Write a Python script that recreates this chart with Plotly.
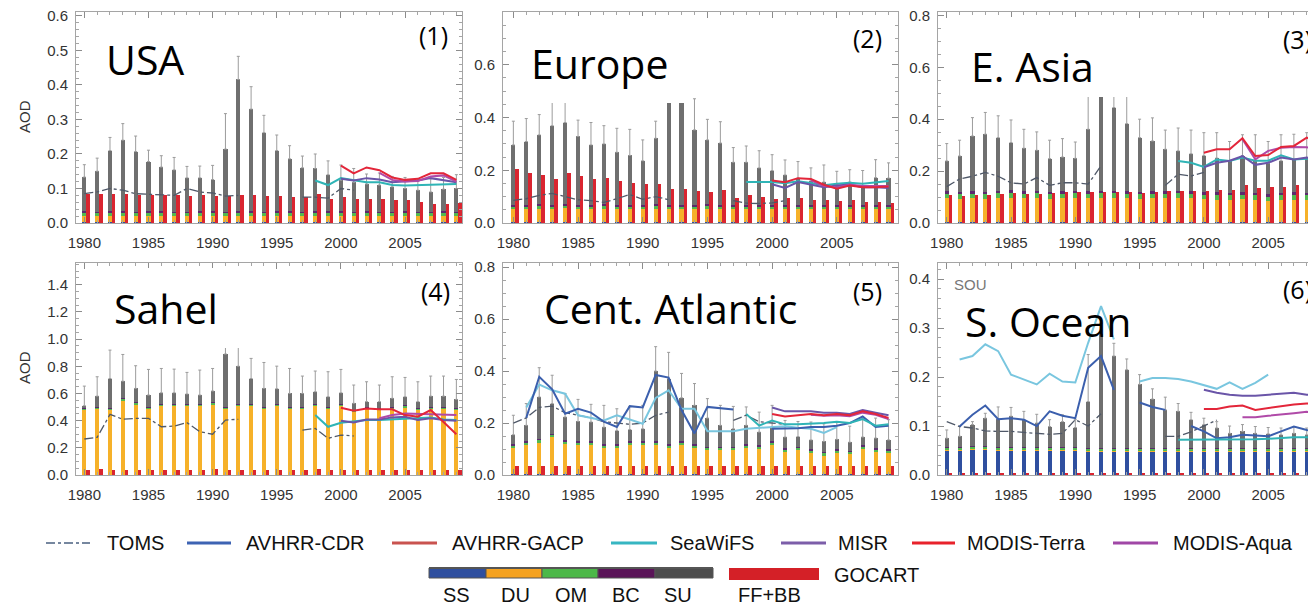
import plotly.graph_objects as go

# page body adds an 8px offset; figure is laid out in reference pixel coords minus that offset
OFF = 8
W, H = 1316 - OFF, 606 - OFF
years = list(range(1980, 2010))
tick_years = [1980, 1985, 1990, 1995, 2000, 2005]
seawifs_years = list(range(1998, 2010))
misr_years = list(range(2000, 2010))
terra_years = list(range(2000, 2010))
aqua_years = list(range(2003, 2010))

# ---------------- (1) USA ----------------
usa_total = [0.133,0.150,0.210,0.240,0.207,0.178,0.162,0.154,0.131,0.131,0.126,0.214,0.416,0.330,0.262,0.210,0.186,0.160,0.158,0.140,0.124,0.118,0.113,0.110,0.105,0.100,0.095,0.090,0.098,0.100]
usa_errtop = [0.169,0.188,0.248,0.288,0.252,0.211,0.195,0.190,0.164,0.165,0.167,0.317,0.483,0.395,0.312,0.255,0.224,0.194,0.200,0.180,0.168,0.158,0.142,0.145,0.135,0.132,0.128,0.128,0.132,0.140]
usa_ss = [0.003,0.003,0.003,0.003,0.003,0.003,0.003,0.003,0.003,0.003,0.003,0.003,0.003,0.003,0.003,0.003,0.003,0.003,0.003,0.003,0.003,0.003,0.003,0.003,0.003,0.003,0.003,0.003,0.003,0.003]
usa_du = [0.017,0.016,0.017,0.017,0.016,0.017,0.017,0.016,0.016,0.017,0.017,0.016,0.017,0.017,0.016,0.017,0.017,0.016,0.017,0.017,0.017,0.016,0.017,0.016,0.016,0.017,0.016,0.016,0.017,0.016]
usa_om = [0.010,0.010,0.010,0.010,0.010,0.010,0.010,0.010,0.010,0.010,0.010,0.010,0.010,0.010,0.010,0.010,0.010,0.010,0.010,0.010,0.010,0.010,0.010,0.010,0.010,0.010,0.010,0.010,0.010,0.010]
usa_bc = [0.004,0.004,0.004,0.004,0.004,0.004,0.004,0.004,0.004,0.004,0.004,0.004,0.004,0.004,0.004,0.004,0.004,0.004,0.004,0.004,0.004,0.004,0.004,0.004,0.004,0.004,0.004,0.004,0.004,0.004]
usa_ff = [0.083,0.083,0.085,0.083,0.080,0.080,0.080,0.080,0.077,0.080,0.077,0.077,0.080,0.080,0.077,0.077,0.075,0.075,0.085,0.070,0.075,0.070,0.070,0.070,0.066,0.066,0.061,0.056,0.054,0.057]
usa_toms = [0.085,0.090,0.100,0.095,0.085,0.083,0.080,0.080,0.100,0.090,0.087,0.078,0.080,None,None,None,None,0.075,0.075,0.072,0.100,0.095,None,None,None,None,None,None,None,None]
usa_seawifs = [0.123,0.110,0.130,0.123,0.118,0.118,0.110,0.109,0.110,0.113,0.114,0.113]
usa_misr = [0.128,0.123,0.130,0.126,0.118,0.120,0.123,0.130,0.125,0.118]
usa_terra = [0.166,0.144,0.161,0.153,0.132,0.125,0.128,0.144,0.144,0.125]
usa_aqua = [0.145,0.125,0.120,0.122,0.135,0.138,0.120]

# ---------------- (2) Europe ----------------
eur_total = [0.296,0.309,0.334,0.369,0.381,0.328,0.296,0.300,0.268,0.256,0.236,0.321,0.550,0.520,0.353,0.315,0.303,0.230,0.230,0.209,0.199,0.182,0.170,0.160,0.155,0.145,0.155,0.142,0.172,0.170]
eur_errtop = [0.386,0.396,0.411,0.470,0.480,0.390,0.381,0.369,0.359,0.355,0.315,0.386,0.650,0.620,0.471,0.393,0.384,0.286,0.292,0.274,0.259,0.239,0.233,0.209,0.220,0.196,0.202,0.199,0.240,0.228]
eur_ss = [0.003,0.003,0.003,0.003,0.003,0.003,0.003,0.003,0.003,0.003,0.003,0.003,0.003,0.003,0.003,0.003,0.003,0.003,0.003,0.003,0.003,0.003,0.003,0.003,0.003,0.003,0.003,0.003,0.003,0.003]
eur_du = [0.050,0.049,0.051,0.050,0.052,0.050,0.049,0.051,0.050,0.049,0.050,0.051,0.050,0.049,0.050,0.051,0.050,0.049,0.050,0.050,0.050,0.049,0.050,0.050,0.049,0.050,0.049,0.050,0.050,0.050]
eur_om = [0.011,0.011,0.011,0.011,0.011,0.011,0.011,0.011,0.011,0.011,0.011,0.011,0.011,0.011,0.011,0.011,0.011,0.011,0.011,0.011,0.011,0.011,0.011,0.011,0.011,0.011,0.011,0.011,0.011,0.011]
eur_bc = [0.006,0.006,0.006,0.006,0.006,0.006,0.006,0.006,0.006,0.006,0.006,0.006,0.006,0.006,0.006,0.006,0.006,0.006,0.006,0.006,0.006,0.006,0.006,0.006,0.006,0.006,0.006,0.006,0.006,0.006]
eur_ff = [0.203,0.188,0.181,0.165,0.188,0.178,0.165,0.169,0.159,0.153,0.146,0.146,0.130,0.130,0.121,0.118,0.125,0.096,0.105,0.099,0.090,0.095,0.093,0.087,0.089,0.085,0.086,0.081,0.078,0.076]
eur_toms = [0.086,0.092,0.105,0.112,0.100,0.088,0.085,0.078,0.092,0.108,0.090,0.100,0.088,None,None,None,None,0.085,0.075,0.074,0.076,0.085,None,None,None,None,None,None,None,None]
eur_seawifs = [0.155,0.155,0.155,0.151,0.158,0.152,0.143,0.149,0.153,0.149,0.153,0.159]
eur_misr = [0.147,0.133,0.155,0.145,0.136,0.142,0.146,0.136,0.136,0.133]
eur_terra = [0.161,0.155,0.170,0.167,0.145,0.130,0.142,0.136,0.136,0.138]
eur_aqua = [0.162,0.140,0.135,0.145,0.140,0.140,0.140]

# ---------------- (3) E. Asia ----------------
eas_total = [0.239,0.258,0.335,0.342,0.329,0.310,0.288,0.280,0.248,0.254,0.249,0.361,0.550,0.445,0.383,0.329,0.316,0.284,0.278,0.267,0.260,0.250,0.240,0.260,0.240,0.230,0.240,0.245,0.250,0.250]
eas_errtop = [0.306,0.319,0.406,0.426,0.413,0.397,0.361,0.351,0.319,0.325,0.312,0.550,0.650,0.550,0.520,0.400,0.405,0.358,0.366,0.358,0.348,0.348,0.314,0.340,0.340,0.314,0.340,0.342,0.348,0.345]
eas_ss = [0.003,0.003,0.003,0.003,0.003,0.003,0.003,0.003,0.003,0.003,0.003,0.003,0.003,0.003,0.003,0.003,0.003,0.003,0.003,0.003,0.003,0.003,0.003,0.003,0.003,0.003,0.003,0.003,0.003,0.003]
eas_du = [0.092,0.090,0.092,0.090,0.094,0.095,0.092,0.094,0.090,0.092,0.093,0.092,0.094,0.093,0.092,0.090,0.092,0.092,0.093,0.092,0.088,0.087,0.086,0.088,0.085,0.080,0.086,0.087,0.086,0.086]
eas_om = [0.018,0.018,0.018,0.018,0.018,0.018,0.018,0.018,0.018,0.018,0.018,0.018,0.018,0.018,0.018,0.018,0.018,0.018,0.018,0.018,0.018,0.018,0.018,0.018,0.018,0.018,0.018,0.018,0.018,0.018]
eas_bc = [0.010,0.010,0.010,0.010,0.010,0.010,0.010,0.010,0.010,0.010,0.010,0.010,0.010,0.010,0.010,0.010,0.010,0.010,0.010,0.010,0.010,0.010,0.010,0.010,0.010,0.010,0.010,0.010,0.010,0.010]
eas_ff = [0.106,0.103,0.106,0.106,0.110,0.114,0.110,0.110,0.114,0.119,0.119,0.119,0.119,0.119,0.119,0.114,0.119,0.122,0.122,0.122,0.122,0.126,0.128,0.148,0.134,0.140,0.140,0.145,0.145,0.148]
eas_toms = [0.140,0.170,0.180,0.195,0.180,0.155,0.150,0.175,0.145,0.155,0.155,0.150,0.220,None,None,None,None,0.145,0.188,0.181,0.195,None,None,None,None,None,None,None,None,None]
eas_seawifs = [0.239,0.232,0.216,0.245,0.239,0.252,0.240,0.240,0.261,0.245,0.248,0.245]
eas_misr = [0.215,0.232,0.240,0.258,0.224,0.232,0.252,0.245,0.252,0.245]
eas_terra = [0.271,0.284,0.284,0.327,0.258,0.262,0.293,0.297,0.329,0.310]
eas_aqua = [0.323,0.245,0.278,0.290,0.293,0.292,0.285]

# ---------------- (4) Sahel ----------------
sah_total = [0.510,0.580,0.710,0.690,0.637,0.588,0.605,0.605,0.596,0.588,0.618,0.890,0.800,0.710,0.637,0.635,0.600,0.600,0.613,0.576,0.605,0.527,0.540,0.540,0.564,0.576,0.540,0.580,0.580,0.556]
sah_errtop = [0.654,0.723,0.919,0.887,0.804,0.777,0.784,0.779,0.755,0.772,0.784,1.050,1.050,0.858,0.828,0.801,0.784,0.728,0.765,0.760,0.777,0.662,0.686,0.662,0.723,0.718,0.686,0.728,0.728,0.703]
sah_ss = [0.002,0.002,0.002,0.002,0.002,0.002,0.002,0.002,0.002,0.002,0.002,0.002,0.002,0.002,0.002,0.002,0.002,0.002,0.002,0.002,0.002,0.002,0.002,0.002,0.002,0.002,0.002,0.002,0.002,0.002]
sah_du = [0.478,0.488,0.478,0.548,0.518,0.488,0.508,0.508,0.508,0.508,0.518,0.488,0.508,0.508,0.488,0.508,0.488,0.488,0.508,0.488,0.508,0.466,0.488,0.478,0.488,0.498,0.478,0.488,0.488,0.478]
sah_om = [0.010,0.010,0.010,0.010,0.010,0.010,0.010,0.010,0.010,0.010,0.010,0.010,0.010,0.010,0.010,0.010,0.010,0.010,0.010,0.010,0.010,0.010,0.010,0.010,0.010,0.010,0.010,0.010,0.010,0.010]
sah_bc = [0.004,0.004,0.004,0.004,0.004,0.004,0.004,0.004,0.004,0.004,0.004,0.004,0.004,0.004,0.004,0.004,0.004,0.004,0.004,0.004,0.004,0.004,0.004,0.004,0.004,0.004,0.004,0.004,0.004,0.004]
sah_ff = [0.040,0.042,0.040,0.040,0.038,0.040,0.040,0.038,0.040,0.040,0.042,0.040,0.040,0.038,0.040,0.040,0.038,0.040,0.042,0.040,0.040,0.036,0.038,0.040,0.038,0.040,0.038,0.040,0.040,0.038]
sah_toms = [0.265,0.277,0.446,0.410,0.417,0.417,0.355,0.360,0.385,0.319,0.300,0.404,0.410,None,None,None,None,0.330,0.343,0.270,0.294,0.287,None,None,None,None,None,None,None,None]
sah_seawifs = [0.441,0.355,0.385,0.392,0.404,0.404,0.409,0.417,0.417,0.424,0.409,0.404]
sah_misr = [0.400,0.387,0.409,0.409,0.424,0.429,0.404,0.417,0.404,0.400]
sah_terra = [0.495,0.473,0.490,0.483,0.483,0.441,0.429,0.478,0.390,0.300]
sah_aqua = [0.417,0.441,0.453,0.450,0.452,0.448,0.441]

# ---------------- (5) Cent. Atlantic ----------------
cat_total = [0.155,0.191,0.300,0.275,0.223,0.206,0.204,0.184,0.171,0.175,0.178,0.400,0.371,0.297,0.268,0.219,0.191,0.178,0.191,0.165,0.184,0.146,0.148,0.135,0.129,0.137,0.126,0.146,0.142,0.135]
cat_errtop = [0.230,0.275,0.413,0.384,0.313,0.291,0.272,0.268,0.255,0.264,0.268,0.494,0.472,0.391,0.352,0.294,0.268,0.264,0.262,0.242,0.268,0.210,0.206,0.204,0.197,0.204,0.188,0.217,0.219,0.213]
cat_ss = [0.005,0.005,0.005,0.005,0.005,0.005,0.005,0.005,0.005,0.005,0.005,0.005,0.005,0.005,0.005,0.005,0.005,0.005,0.005,0.005,0.005,0.005,0.005,0.005,0.005,0.005,0.005,0.005,0.005,0.005]
cat_du = [0.100,0.110,0.120,0.140,0.115,0.110,0.110,0.100,0.100,0.110,0.110,0.110,0.100,0.110,0.100,0.090,0.090,0.090,0.100,0.095,0.110,0.085,0.090,0.080,0.070,0.080,0.075,0.095,0.085,0.080]
cat_om = [0.010,0.010,0.010,0.010,0.010,0.010,0.010,0.010,0.010,0.010,0.010,0.010,0.010,0.010,0.010,0.010,0.010,0.010,0.010,0.010,0.010,0.010,0.010,0.010,0.010,0.010,0.010,0.010,0.010,0.010]
cat_bc = [0.004,0.004,0.004,0.004,0.004,0.004,0.004,0.004,0.004,0.004,0.004,0.004,0.004,0.004,0.004,0.004,0.004,0.004,0.004,0.004,0.004,0.004,0.004,0.004,0.004,0.004,0.004,0.004,0.004,0.004]
cat_ff = [0.035,0.036,0.035,0.036,0.035,0.035,0.036,0.035,0.035,0.034,0.035,0.036,0.035,0.035,0.035,0.034,0.035,0.035,0.034,0.035,0.035,0.034,0.035,0.035,0.034,0.035,0.035,0.034,0.035,0.035]
cat_toms = [0.200,0.220,0.260,0.265,0.240,0.230,0.220,0.205,0.200,0.195,0.200,0.230,0.242,None,None,None,None,0.210,0.230,0.205,0.200,0.195,None,None,None,None,None,None,None,None]
cat_cdr = [None,0.220,0.378,0.330,0.236,0.255,0.240,0.205,0.185,0.265,0.260,0.385,0.375,0.250,0.160,0.262,0.258,0.252,None,None,0.178,0.178,0.180,0.185,0.185,0.190,0.200,0.225,0.185,0.190]
cat_gacp = [None,0.260,0.348,0.326,0.313,0.230,0.219,0.210,0.230,0.214,0.197,0.297,0.326,0.255,0.255,0.168,0.168,0.168,0.178,0.182,0.186,0.188,0.182,0.178,0.162,0.184,None,None,None,None]
cat_seawifs = [0.235,0.190,0.210,0.195,0.195,0.197,0.200,0.205,0.200,0.215,0.190,0.195]
cat_misr = [0.260,0.245,0.245,0.245,0.240,0.240,0.235,0.250,0.240,0.230]
cat_terra = [0.235,0.225,0.230,0.235,0.230,0.235,0.230,0.245,0.235,0.220]
cat_aqua = [0.232,0.228,0.230,0.226,0.240,0.232,0.215]

# ---------------- (6) S. Ocean ----------------
sou_total = [0.075,0.079,0.103,0.116,0.114,0.120,0.113,0.106,0.099,0.109,0.097,0.150,0.288,0.243,0.215,0.185,0.155,0.133,0.130,0.113,0.103,0.096,0.085,0.089,0.085,0.084,0.082,0.085,0.082,0.082]
sou_errtop = [0.092,0.099,0.109,0.126,0.139,0.138,0.130,0.124,0.113,0.123,0.113,0.246,0.310,0.269,0.237,0.205,0.176,0.159,0.146,0.128,0.116,0.109,0.100,0.103,0.099,0.097,0.096,0.098,0.096,0.096]
sou_ss = [0.050,0.051,0.052,0.052,0.051,0.051,0.051,0.050,0.050,0.051,0.050,0.049,0.048,0.048,0.048,0.049,0.049,0.049,0.049,0.049,0.049,0.048,0.048,0.048,0.048,0.048,0.048,0.048,0.048,0.048]
sou_du = [0.002,0.002,0.002,0.002,0.002,0.002,0.002,0.002,0.002,0.002,0.002,0.002,0.002,0.002,0.002,0.002,0.002,0.002,0.002,0.002,0.002,0.002,0.002,0.002,0.002,0.002,0.002,0.002,0.002,0.002]
sou_om = [0.004,0.004,0.004,0.004,0.004,0.004,0.004,0.004,0.004,0.004,0.004,0.004,0.004,0.004,0.004,0.004,0.004,0.004,0.004,0.004,0.004,0.004,0.004,0.004,0.004,0.004,0.004,0.004,0.004,0.004]
sou_bc = [0.001,0.001,0.001,0.001,0.001,0.001,0.001,0.001,0.001,0.001,0.001,0.001,0.001,0.001,0.001,0.001,0.001,0.001,0.001,0.001,0.001,0.001,0.001,0.001,0.001,0.001,0.001,0.001,0.001,0.001]
sou_ff = [0.005,0.005,0.005,0.005,0.005,0.005,0.005,0.005,0.005,0.005,0.005,0.005,0.005,0.005,0.005,0.005,0.005,0.005,0.005,0.005,0.005,0.005,0.005,0.005,0.005,0.005,0.005,0.005,0.005,0.005]
sou_toms = [0.109,0.099,0.096,0.090,0.089,0.089,0.087,0.085,0.083,0.085,0.113,0.100,0.125,None,None,None,None,0.079,0.079,0.088,0.100,0.112,None,None,None,None,None,None,None,None]
sou_cdr = [None,0.099,0.123,0.142,0.114,0.116,0.113,0.100,0.130,0.121,0.116,0.219,0.243,0.174,None,0.148,0.139,0.133,None,0.100,0.089,0.075,0.077,0.082,0.080,0.079,0.089,0.099,0.092,0.088]
sou_gacp = [None,0.236,0.243,0.267,0.253,0.205,0.195,0.185,0.207,0.191,0.189,0.270,0.345,0.277,None,0.191,0.198,0.198,0.196,0.191,0.183,0.176,0.189,0.176,0.188,0.205,None,None,None,None]
sou_seawifs = [0.072,0.072,0.072,0.073,0.073,0.072,0.073,0.074,0.076,0.077,0.077,0.078]
sou_misr = [0.174,0.168,0.164,0.162,0.162,0.164,0.166,0.168,0.164,0.163]
sou_terra = [0.135,0.135,0.140,0.142,0.133,0.137,0.140,0.144,0.146,0.144]
sou_aqua = [0.118,0.118,0.121,0.123,0.126,0.129,0.128]

# ---------------- styling ----------------
C_SS, C_DU, C_OM, C_BC, C_SU, C_FF = "#2f4f9f", "#f6b129", "#52b94f", "#5b2a6e", "#6f6f6f", "#da2530"
C_TOMS = "#4f5868"
C_CDR, C_GACP, C_SEA = "#3b5fad", "#79c6df", "#2fb4b6"
C_MISR, C_TERRA, C_AQUA = "#6a55a8", "#e3263a", "#b04aa8"

panels = [
    dict(total=usa_total, err=usa_errtop, ss=usa_ss, du=usa_du, om=usa_om, bc=usa_bc, ff=usa_ff,
         toms=usa_toms, cdr=None, gacp=None, sea=usa_seawifs, misr=usa_misr, terra=usa_terra, aqua=usa_aqua),
    dict(total=eur_total, err=eur_errtop, ss=eur_ss, du=eur_du, om=eur_om, bc=eur_bc, ff=eur_ff,
         toms=eur_toms, cdr=None, gacp=None, sea=eur_seawifs, misr=eur_misr, terra=eur_terra, aqua=eur_aqua),
    dict(total=eas_total, err=eas_errtop, ss=eas_ss, du=eas_du, om=eas_om, bc=eas_bc, ff=eas_ff,
         toms=eas_toms, cdr=None, gacp=None, sea=eas_seawifs, misr=eas_misr, terra=eas_terra, aqua=eas_aqua),
    dict(total=sah_total, err=sah_errtop, ss=sah_ss, du=sah_du, om=sah_om, bc=sah_bc, ff=sah_ff,
         toms=sah_toms, cdr=None, gacp=None, sea=sah_seawifs, misr=sah_misr, terra=sah_terra, aqua=sah_aqua),
    dict(total=cat_total, err=cat_errtop, ss=cat_ss, du=cat_du, om=cat_om, bc=cat_bc, ff=cat_ff,
         toms=cat_toms, cdr=cat_cdr, gacp=cat_gacp, sea=cat_seawifs, misr=cat_misr, terra=cat_terra, aqua=cat_aqua),
    dict(total=sou_total, err=sou_errtop, ss=sou_ss, du=sou_du, om=sou_om, bc=sou_bc, ff=sou_ff,
         toms=sou_toms, cdr=sou_cdr, gacp=sou_gacp, sea=sou_seawifs, misr=sou_misr, terra=sou_terra, aqua=sou_aqua),
]

fig = go.Figure()
STACK_W, FF_W, FF_SHIFT = 0.32, 0.26, 0.29

for i, p in enumerate(panels):
    xa = "x" if i == 0 else f"x{i+1}"
    ya = "y" if i == 0 else f"y{i+1}"
    su = [t - a - b - c - d for t, a, b, c, d in zip(p["total"], p["ss"], p["du"], p["om"], p["bc"])]
    for vals, col in [(p["ss"], C_SS), (p["du"], C_DU), (p["om"], C_OM), (p["bc"], C_BC), (su, C_SU)]:
        fig.add_trace(go.Bar(x=years, y=vals, width=STACK_W, marker=dict(color=col, line=dict(width=0)),
                             xaxis=xa, yaxis=ya, hoverinfo="skip", showlegend=False))
    fig.add_trace(go.Bar(x=[yr + FF_SHIFT for yr in years], y=p["ff"], width=FF_W,
                         marker=dict(color=C_FF, line=dict(width=0)),
                         xaxis=xa, yaxis=ya, hoverinfo="skip", showlegend=False))
    fig.add_trace(go.Scatter(x=years, y=p["total"], mode="markers", marker=dict(size=1, opacity=0),
                             error_y=dict(type="data", symmetric=False,
                                          array=[e - t for e, t in zip(p["err"], p["total"])],
                                          arrayminus=[0] * len(years), color="#9c9c9c", thickness=1, width=1.5),
                             xaxis=xa, yaxis=ya, hoverinfo="skip", showlegend=False))
    fig.add_trace(go.Scatter(x=years, y=p["toms"], mode="lines", line=dict(color=C_TOMS, width=1.3, dash="dashdot"),
                             connectgaps=False, xaxis=xa, yaxis=ya, hoverinfo="skip", showlegend=False))
    if p["gacp"] is not None:
        fig.add_trace(go.Scatter(x=years, y=p["gacp"], mode="lines", line=dict(color=C_GACP, width=2),
                                 connectgaps=False, xaxis=xa, yaxis=ya, hoverinfo="skip", showlegend=False))
    if p["cdr"] is not None:
        fig.add_trace(go.Scatter(x=years, y=p["cdr"], mode="lines", line=dict(color=C_CDR, width=2),
                                 connectgaps=False, xaxis=xa, yaxis=ya, hoverinfo="skip", showlegend=False))
    for yrs, vals, col in [(seawifs_years, p["sea"], C_SEA), (misr_years, p["misr"], C_MISR),
                           (aqua_years, p["aqua"], C_AQUA), (terra_years, p["terra"], C_TERRA)]:
        fig.add_trace(go.Scatter(x=yrs, y=vals, mode="lines", line=dict(color=col, width=2),
                                 xaxis=xa, yaxis=ya, hoverinfo="skip", showlegend=False))


def px(x):
    return (x - OFF) / W


def py(y):
    return 1 - (y - OFF) / H


# ---------------- axes ----------------
col_dom = [[px(76), px(462)], [px(503), px(898)], [px(938), 1.0]]
col_rng = [[1979.35, 2009.44], [1979.20, 2009.73], [1979.32, 2008.72]]
row_dom = [[py(223), py(12)], [py(475), py(263)]]
y_rng = [[0, 0.6115], [0, 0.8], [0, 0.813], [0, 1.56], [0, 0.816], [0, 0.433]]
y_ticks = [[0, 0.1, 0.2, 0.3, 0.4, 0.5, 0.6], [0, 0.2, 0.4, 0.6], [0, 0.2, 0.4, 0.6, 0.8],
           [0, 0.2, 0.4, 0.6, 0.8, 1.0, 1.2, 1.4], [0, 0.2, 0.4, 0.6, 0.8], [0, 0.1, 0.2, 0.3, 0.4]]
y_minor = [0.02, 0.05, 0.05, 0.05, 0.05, 0.02]
tickfont = dict(family="Liberation Sans, Arial, sans-serif", size=15, color="#333333")

layout_axes = {}
for i in range(6):
    r, c = divmod(i, 3)
    sfx = "" if i == 0 else str(i + 1)
    layout_axes["xaxis" + sfx] = dict(
        domain=col_dom[c], range=col_rng[c], anchor="y" + sfx, tickmode="array", tickvals=tick_years,
        ticks="inside", ticklen=6, tickcolor="#8c8c8c", showline=True, linecolor="#a5a5a5", linewidth=1,
        mirror="ticks", showgrid=False, zeroline=False, tickfont=tickfont, ticklabelstandoff=6,
        automargin=False, ticklabeloverflow="allow",
        minor=dict(tick0=1980, dtick=1, ticks="inside", ticklen=3, tickcolor="#a5a5a5"))
    layout_axes["yaxis" + sfx] = dict(
        domain=row_dom[r], range=y_rng[i], anchor="x" + sfx, tickmode="array", tickvals=y_ticks[i],
        tickformat=".1f", ticks="inside", ticklen=6, tickcolor="#8c8c8c", showline=True, linecolor="#a5a5a5",
        linewidth=1, mirror="ticks", showgrid=False, zeroline=False, tickfont=tickfont, ticklabelstandoff=4,
        automargin=False, ticklabeloverflow="allow",
        minor=dict(tick0=0, dtick=y_minor[i], ticks="inside", ticklen=3, tickcolor="#a5a5a5"))

shapes = []
# white boxes behind region labels (clip tall bars)
for x0, x1, y0, y1 in [(540, 688, 16, 103), (960, 1132, 17, 97), (110, 245, 268, 348)]:
    shapes.append(dict(type="rect", xref="paper", yref="paper", x0=px(x0), x1=px(x1), y0=py(y1), y1=py(y0),
                       fillcolor="white", line=dict(width=0), layer="above"))

annotations = []
title_font = dict(family="Open Sans, sans-serif", size=41, color="black")
num_font = dict(family="Open Sans, sans-serif", size=25, color="black")
for txt, x, y in [("USA", 145, 59), ("Europe", 599, 63), ("E. Asia", 1032, 66),
                  ("Sahel", 166, 308), ("Cent. Atlantic", 670, 308), ("S. Ocean", 1048, 321)]:
    annotations.append(dict(text=txt, x=px(x), y=py(y), xref="paper", yref="paper", showarrow=False,
                            xanchor="center", yanchor="middle", font=title_font))
for txt, x, y in [("(1)", 433, 35), ("(2)", 867, 38), ("(3)", 1314, 39),
                  ("(4)", 435, 291), ("(5)", 867, 291), ("(6)", 1314, 289)]:
    annotations.append(dict(text=txt, x=px(x), y=py(y), xref="paper", yref="paper", showarrow=False,
                            xanchor="right" if x > 1300 else "center", yanchor="middle", font=num_font))
for y in [117, 368]:
    annotations.append(dict(text="AOD", x=px(24), y=py(y), xref="paper", yref="paper", showarrow=False,
                            textangle=-90, xanchor="center", yanchor="middle",
                            font=dict(family="Liberation Sans, Arial", size=15, color="#333333")))
annotations.append(dict(text="SOU", x=px(970), y=py(284), xref="paper", yref="paper", showarrow=False,
                        xanchor="center", yanchor="middle",
                        font=dict(family="Liberation Sans, Arial", size=15, color="#777777")))

# ---------------- custom legend ----------------
leg_font = dict(family="Liberation Sans, Arial, sans-serif", size=20, color="#111111")
leg_items = [("TOMS", 46, 90, 105, "#4a6080", "dashdot", 1.5),
             ("AVHRR-CDR", 187, 231, 244, "#3d63b3", "solid", 3),
             ("AVHRR-GACP", 392, 437, 450, "#c9534f", "solid", 3),
             ("SeaWiFS", 611, 657, 668, "#37b6c2", "solid", 3),
             ("MISR", 781, 826, 836, "#7c5ea9", "solid", 3),
             ("MODIS-Terra", 912, 955, 965, "#e8222b", "solid", 3),
             ("MODIS-Aqua", 1113, 1158, 1171, "#a047a6", "solid", 3)]
for name, l0, l1, tx, col, dash, lw in leg_items:
    shapes.append(dict(type="line", xref="paper", yref="paper", x0=px(l0), x1=px(l1), y0=py(543), y1=py(543),
                       line=dict(color=col, width=lw, dash=dash)))
    annotations.append(dict(text=name, x=px(tx), y=py(543), xref="paper", yref="paper", showarrow=False,
                            xanchor="left", yanchor="middle", font=leg_font))

seg = [("SS", 429, 486, C_SS), ("DU", 486, 542, "#f5a21f"), ("OM", 542, 598, "#4cb848"),
       ("BC", 598, 655, "#5a1458"), ("SU", 655, 713, "#4d4d4d")]
for name, a, b, col in seg:
    shapes.append(dict(type="rect", xref="paper", yref="paper", x0=px(a), x1=px(b), y0=py(578), y1=py(568),
                       fillcolor=col, line=dict(color="#555555", width=1)))
shapes.append(dict(type="line", xref="paper", yref="paper", x0=px(429), x1=px(713), y0=py(568), y1=py(568),
                   line=dict(color="#555555", width=2)))
shapes.append(dict(type="rect", xref="paper", yref="paper", x0=px(729), x1=px(819), y0=py(580), y1=py(568),
                   fillcolor="#d42027", line=dict(width=0)))
annotations.append(dict(text="GOCART", x=px(832), y=py(575), xref="paper", yref="paper", showarrow=False,
                        xanchor="left", yanchor="middle", font=leg_font))
for name, x in [("SS", 456), ("DU", 515), ("OM", 571), ("BC", 626), ("SU", 678), ("FF+BB", 769)]:
    annotations.append(dict(text=name, x=px(x), y=py(595), xref="paper", yref="paper", showarrow=False,
                            xanchor="center", yanchor="middle", font=leg_font))

fig.update_layout(
    width=W, height=H, margin=dict(l=0, r=0, t=0, b=0, pad=0, autoexpand=False),
    paper_bgcolor="white", plot_bgcolor="white",
    barmode="stack", showlegend=False, shapes=shapes, annotations=annotations, **layout_axes)

fig.write_html("out.html")
